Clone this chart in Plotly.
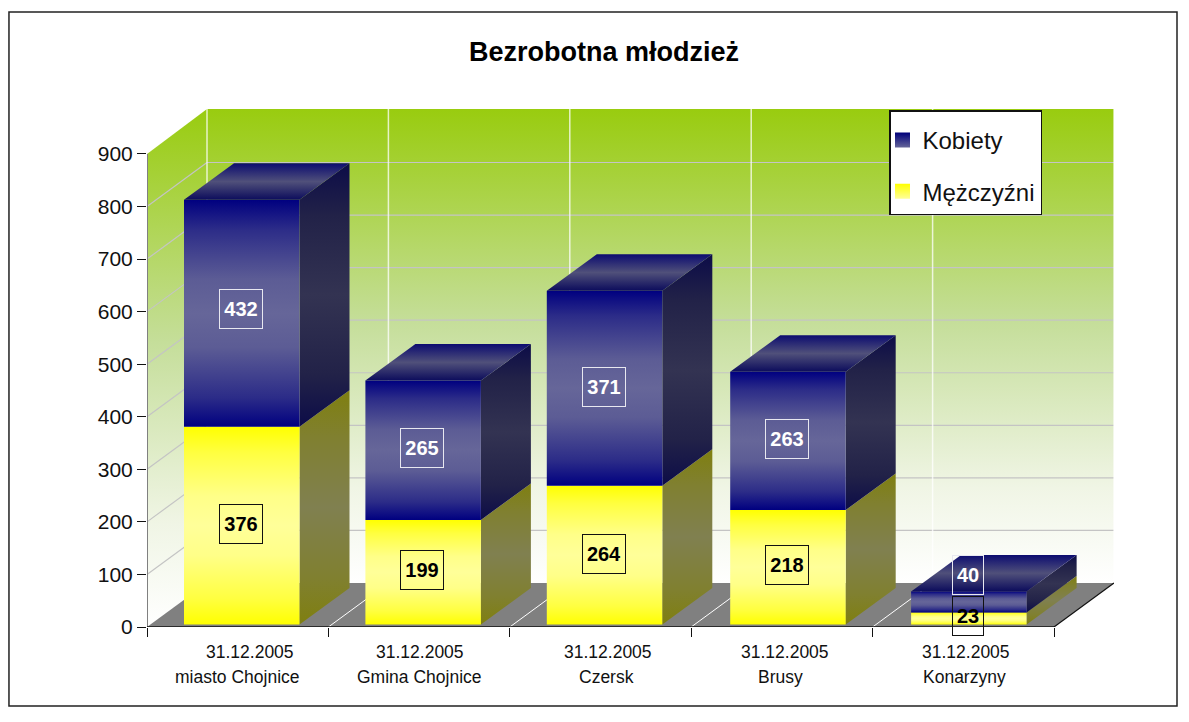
import plotly.graph_objects as go

categories = ["miasto Chojnice", "Gmina Chojnice", "Czersk", "Brusy", "Konarzyny"]
dates = ["31.12.2005"] * 5
men = [376, 199, 264, 218, 23]
women = [432, 265, 371, 263, 40]
y_ticks = [0, 100, 200, 300, 400, 500, 600, 700, 800, 900]
title = "Bezrobotna młodzież"

PAGE = 8              # default page margin of the html body
W, H = 1189 - PAGE, 722 - PAGE
L, R, T, B = 147 - PAGE, 1114 - PAGE, 109 - PAGE, 627 - PAGE
PX_X = 181.4          # pixels per category
PX_Y = 0.5256         # pixels per unit
WALL_DX, WALL_DY = 60 / PX_X, 44 / PX_Y
BAR_DX, BAR_DY = 50 / PX_X, 36.5 / PX_Y
BAR_L, BAR_R = 37 / PX_X, 152.5 / PX_X
BASE = 2.5 / PX_Y
N = len(categories)

date_dx = [12, 1, 7, 3, 3]
name_dx = [0, 0, 6, -1, 1]
bar_dx = [0, 0, 0, 2 / PX_X, 1.5 / PX_X]
label_dy = {"m": [2, 2, 1, 2, 2], "w": [4, 2, 1, 2, 27]}

FONT = "Liberation Sans"
fig = go.Figure()


def face(xs, ys, stops=None, solid=None):
    kw = dict(x=list(xs) + [xs[0]], y=list(ys) + [ys[0]], mode="lines", fill="toself",
              line=dict(width=0), hoverinfo="skip", showlegend=False, cliponaxis=False)
    if stops:
        kw["fillcolor"] = "rgba(0,0,0,0)"
        kw["fillgradient"] = dict(type="vertical",
                                  colorscale=[[p, c] for p, c in stops])
    else:
        kw["fillcolor"] = solid
    fig.add_trace(go.Scatter(**kw))


def lines(segments, color, width):
    xs, ys = [], []
    for (x0, y0, x1, y1) in segments:
        xs += [x0, x1, None]
        ys += [y0, y1, None]
    fig.add_trace(go.Scatter(x=xs, y=ys, mode="lines", line=dict(color=color, width=width),
                             hoverinfo="skip", showlegend=False, cliponaxis=False))


wall = [(0, "#FFFFFF"), (0.2, "#F0F5E5"), (0.55, "#C5DE9A"), (1, "#99CC0F")]
# back wall, side wall, floor
face([WALL_DX, N + WALL_DX, N + WALL_DX, WALL_DX],
     [WALL_DY, WALL_DY, 985.5, 985.5], stops=wall)
face([0, WALL_DX, WALL_DX, 0], [0, WALL_DY, 985.5, 900], stops=wall)
face([0, N, N + WALL_DX, WALL_DX], [0, 0, WALL_DY, WALL_DY], solid="#808080")

# grid
lines([(WALL_DX, WALL_DY + v, N + WALL_DX, WALL_DY + v) for v in y_ticks[1:-1]], "#C4C4C4", 1.2)
lines([(0, v, WALL_DX, WALL_DY + v) for v in y_ticks[1:-1]], "#C4C4C4", 1.2)
lines([(i + WALL_DX, WALL_DY, i + WALL_DX, 985.5) for i in range(N + 1)],
      "rgba(255,255,255,0.75)", 1.5)
lines([(i, 0, i + WALL_DX, WALL_DY) for i in range(1, N)], "#FFFFFF", 1)

# axes
lines([(0, 0, 0, 900)], "#808080", 2)
lines([(N, 0, N + WALL_DX, WALL_DY)], "#111111", 1.2)

W_FRONT = [(0, "#000080"), (0.13, "#2C2C88"), (0.35, "#5C5C95"), (0.5, "#666699"),
           (0.65, "#5C5C95"), (0.87, "#2C2C88"), (1, "#000080")]
W_SIDE = [(0, "#0C0C48"), (0.2, "#222248"), (0.5, "#333352"), (0.8, "#222248"), (1, "#0C0C48")]
W_TOP = [(0, "#0C0C5C"), (0.5, "#50507A"), (1, "#0C0C70")]
M_FRONT = [(0, "#FFFF00"), (0.13, "#FFFF40"), (0.35, "#FFFF88"), (0.5, "#FFFF99"),
           (0.65, "#FFFF88"), (0.87, "#FFFF40"), (1, "#FFFF00")]
M_SIDE = [(0, "#7F7F10"), (0.2, "#808030"), (0.5, "#808050"), (0.8, "#808030"), (1, "#7F7F10")]


def box(i, y0, y1, front, side, top=None):
    xl, xr = i + BAR_L + bar_dx[i], i + BAR_R + bar_dx[i]
    face([xr, xr + BAR_DX, xr + BAR_DX, xr], [y0, y0 + BAR_DY, y1 + BAR_DY, y1], stops=side)
    face([xl, xr, xr, xl], [y0, y0, y1, y1], stops=front)
    if top:
        face([xl, xr, xr + BAR_DX, xl + BAR_DX], [y1, y1, y1 + BAR_DY, y1 + BAR_DY], stops=top)


for i in range(N):
    a = BASE
    b = a + men[i]
    c = b + women[i]
    box(i, a, b, M_FRONT, M_SIDE)
    box(i, b, c, W_FRONT, W_SIDE, W_TOP)

lines([(0, 0, N, 0)], "#111111", 1.5)

# legend-only entries
for name, col, grp in [("Kobiety", "#00007A", "k"), ("Mężczyźni", "#FFFF00", "m")]:
    light = "#666699" if grp == "k" else "#FFFF99"
    fig.add_trace(go.Scatter(x=[None], y=[None], mode="markers", name=name, legendgroup=grp,
                             marker=dict(symbol="square", size=15, color=col,
                                         gradient=dict(type="vertical", color=light))))

ann = []
for i in range(N):
    cx = i + 0.5
    ann.append(dict(x=cx, y=0, xref="x", yref="y", xshift=date_dx[i], yshift=-25, text=dates[i],
                    showarrow=False, font=dict(family=FONT, size=17.5, color="#111111")))
    ann.append(dict(x=cx, y=0, xref="x", yref="y", xshift=name_dx[i], yshift=-50, text=categories[i],
                    showarrow=False, font=dict(family=FONT, size=17.5, color="#111111")))
    m = BASE + men[i] / 2
    w = BASE + men[i] + women[i] / 2
    bw = 44 if men[i] >= 100 else 32
    cxb = i + (BAR_L + BAR_R) / 2 + bar_dx[i]
    ann.append(dict(x=cxb, y=m, xref="x", yref="y", xshift=-1, yshift=label_dy["m"][i], text=str(men[i]),
                    showarrow=False, width=bw - 2, height=38, borderpad=0, bordercolor="#111111",
                    borderwidth=1, font=dict(family=FONT, size=20, color="#000000", weight="bold")))
    ann.append(dict(x=cxb, y=w, xref="x", yref="y", xshift=-1, yshift=label_dy["w"][i], text=str(women[i]),
                    showarrow=False, width=bw - 2, height=38, borderpad=0, bordercolor="#E8E8F0",
                    borderwidth=1, font=dict(family=FONT, size=20, color="#FFFFFF", weight="bold")))

fig.update_layout(
    width=W, height=H, autosize=False,
    margin=dict(l=L, r=W - R, t=T, b=H - B),
    paper_bgcolor="white", plot_bgcolor="rgba(0,0,0,0)",
    font=dict(family=FONT, color="#111111"),
    title=dict(text=f"<b>{title}</b>", x=(604 - PAGE) / W, xanchor="center", y=1 - (52 - PAGE) / H,
               yanchor="middle", font=dict(family=FONT, size=27, color="#000000")),
    xaxis=dict(range=[0, (R - L) / PX_X], tickmode="array", tickvals=list(range(N + 1)),
               ticktext=[""] * (N + 1), ticks="outside", ticklen=9, tickcolor="#111111",
               showgrid=False, zeroline=False, showline=False, fixedrange=True),
    yaxis=dict(range=[0, (B - T) / PX_Y], tickmode="array", tickvals=y_ticks,
               ticks="outside", ticklen=9, tickcolor="#111111", tickfont=dict(size=21, family=FONT),
               showgrid=False, zeroline=False, showline=False, fixedrange=True),
    legend=dict(x=(889 - PAGE - L) / (R - L), y=(B - (110 - PAGE)) / (B - T), xanchor="left", yanchor="top",
                bgcolor="white", bordercolor="#111111", borderwidth=1.5,
                font=dict(family=FONT, size=24, color="#111111"),
                title=dict(text="&nbsp;", font=dict(size=5)),
                tracegroupgap=17, traceorder="grouped", indentation=-8,
                itemclick=False, itemdoubleclick=False),
    annotations=ann,
    shapes=[dict(type="rect", xref="paper", yref="paper", layer="below",
                 x0=(8 - PAGE - L) / (R - L) + 0.001, x1=(1177 - PAGE - L) / (R - L),
                 y0=(B - (706 - PAGE)) / (B - T), y1=(B - (12 - PAGE)) / (B - T),
                 line=dict(color="#222222", width=1.5), fillcolor="white")],
)

fig.write_html("out.html")
